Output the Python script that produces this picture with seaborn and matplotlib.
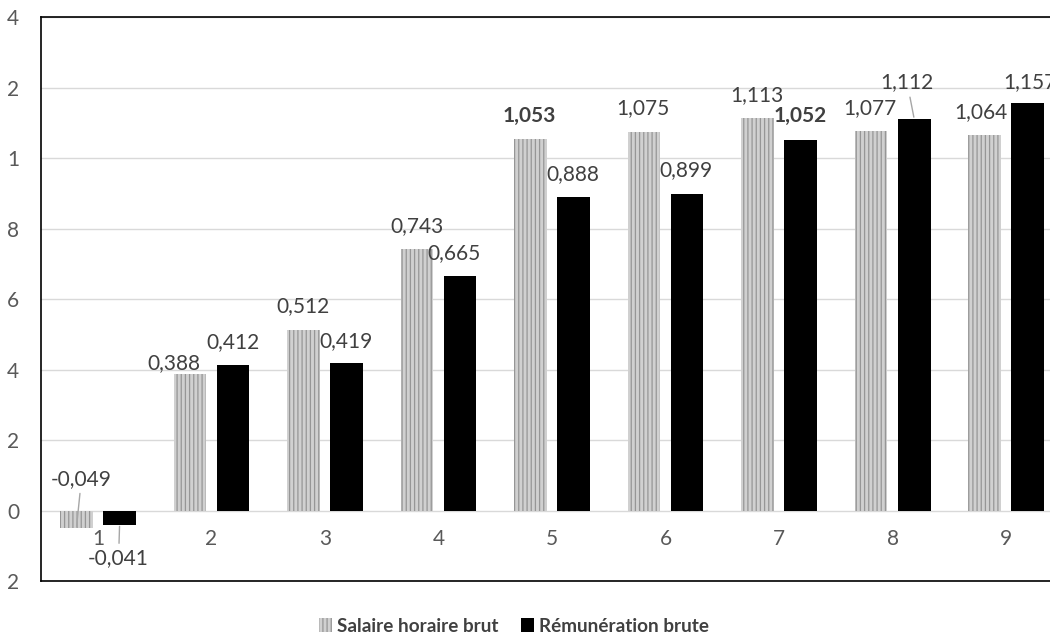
import matplotlib
matplotlib.use("Agg")
import matplotlib.pyplot as plt
from matplotlib.patches import Patch
import seaborn as sns
import pandas as pd

# Categories and series values
categories = ["1", "2", "3", "4", "5", "6", "7", "8", "9"]
series_names = ["Salaire horaire brut", "Rémunération brute"]
salaire_horaire = [-0.049, 0.388, 0.512, 0.743, 1.053, 1.075, 1.113, 1.077, 1.064]
remuneration = [-0.041, 0.412, 0.419, 0.665, 0.888, 0.899, 1.052, 1.112, 1.157]
ytick_values = [-0.2, 0.0, 0.2, 0.4, 0.6, 0.8, 1.0, 1.2, 1.4]
ytick_labels = ["2", "0", "2", "4", "6", "8", "1", "2", "4"]

# Label placement (pixel offsets from the end of each bar), emphasis and leader lines
label_offsets = [
    [(5, 49), (-16, 11), (0, 24), (0, 23), (-1, 23), (-1, 23), (-1, 23), (-1, 23), (-4, 23)],
    [(-1, -33), (0, 23), (-1, 22), (-6, 23), (-1, 23), (-1, 24), (0, 24), (-7, 36), (2, 21)],
]
label_bold = [
    [False, False, False, False, True, False, False, False, False],
    [False, False, False, False, False, False, True, False, False],
]
label_leader = [
    [True, False, False, False, False, False, False, False, False],
    [True, False, False, False, False, False, False, True, False],
]

df = pd.DataFrame({
    "cat": categories * 2,
    "val": salaire_horaire + remuneration,
    "serie": [series_names[0]] * len(categories) + [series_names[1]] * len(categories),
})

sns.set_theme(style="white")
plt.rcParams["font.family"] = ["Lato", "DejaVu Sans"]

TEXT = "#404040"
TICK = "#595959"
GRID = "#d9d9d9"
GRAY_FACE = "#d0d0d0"
GRAY_HATCH = "#969696"
FS = 15
plt.rcParams["hatch.linewidth"] = 0.9

fig = plt.figure(figsize=(10.5, 6.37), dpi=100)
ax = fig.add_axes([0.0393, 0.0879, 0.9729, 0.8854])

sns.barplot(data=df, x="cat", y="val", hue="serie", order=categories,
            hue_order=series_names, palette=[GRAY_FACE, "#000000"],
            saturation=1, width=0.76, gap=0.24, ax=ax, legend=False)

for p in ax.containers[0]:
    p.set_hatch("||||")
    p.set_edgecolor(GRAY_HATCH)
    p.set_linewidth(0)
for p in ax.containers[1]:
    p.set_edgecolor("#000000")
    p.set_linewidth(0)

ax.set_xlim(-0.5, len(categories) - 0.5)
ax.set_ylim(-0.2, 1.4)
ax.set_yticks(ytick_values)
ax.set_yticklabels(ytick_labels, color=TICK, fontsize=FS)
ax.tick_params(axis="y", length=0, pad=16)
ax.set_xticks([])
ax.set_xlabel("")
ax.set_ylabel("")
for y in ytick_values:
    ax.axhline(y, color=GRID, lw=1.0, zorder=0)

for side in ["left", "right", "top", "bottom"]:
    ax.spines[side].set_visible(True)
    ax.spines[side].set_color("#000000")
    ax.spines[side].set_linewidth(1.2)

# Category labels sit just under the zero line
for i, c in enumerate(categories):
    ax.annotate(c, xy=(i, 0), xytext=(0, -28), textcoords="offset pixels",
                ha="center", va="center", fontsize=FS, color=TICK)

# Value labels
values = [salaire_horaire, remuneration]
for s, cont in enumerate(ax.containers[:2]):
    for j, p in enumerate(cont):
        v = values[s][j]
        x = p.get_x() + p.get_width() / 2
        txt = f"{v:.3f}".replace(".", ",")
        kw = {}
        if label_leader[s][j]:
            kw["arrowprops"] = dict(arrowstyle="-", color="#a6a6a6", lw=1.0,
                                    shrinkA=1, shrinkB=1)
        ax.annotate(txt, xy=(x, v), xytext=label_offsets[s][j],
                    textcoords="offset pixels", ha="center", va="center",
                    fontsize=FS, color=TEXT,
                    fontweight="bold" if label_bold[s][j] else "normal", **kw)

handles = [
    Patch(facecolor=GRAY_FACE, edgecolor=GRAY_HATCH, hatch="||||", lw=0),
    Patch(facecolor="#000000", edgecolor="#000000", lw=0),
]
fig.legend(handles, series_names, loc="center", bbox_to_anchor=(514 / 1050, 1 - 626 / 637),
           ncol=2, frameon=False, handlelength=0.7, handleheight=0.7,
           handletextpad=0.25, columnspacing=1.2,
           prop={"weight": "bold", "size": 13.6}, labelcolor=TEXT)

fig.savefig("out.png", dpi=100)
